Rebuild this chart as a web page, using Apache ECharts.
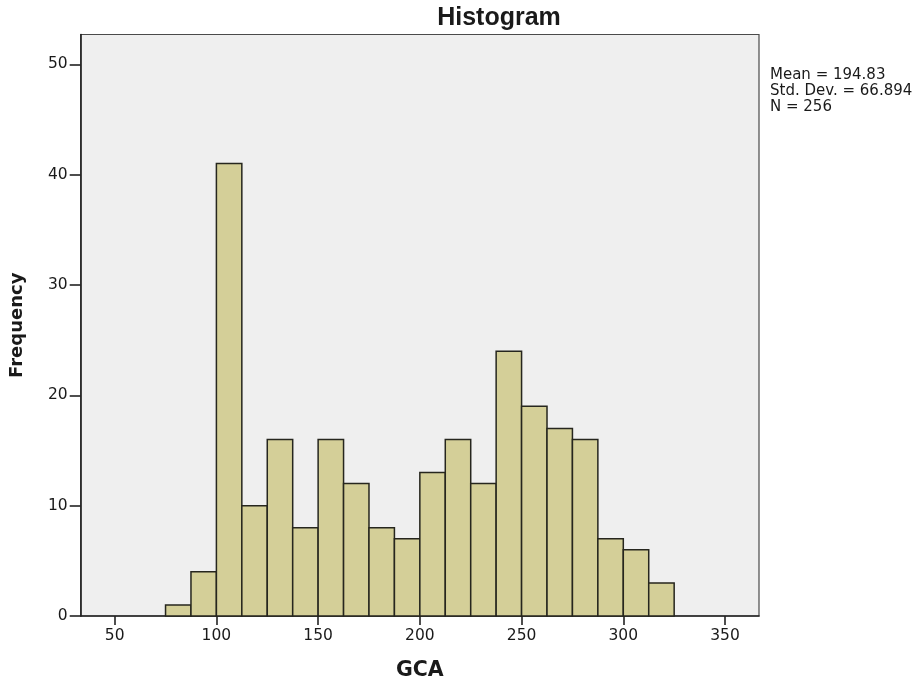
<!DOCTYPE html>
<html>
<head>
<meta charset="utf-8">
<script src="https://cdn.jsdelivr.net/npm/echarts@6/dist/echarts.min.js"></script>
<style>
  html, body { margin: 0; padding: 0; background: #ffffff; }
  #chart { width: 922px; height: 686px; }
</style>
</head>
<body>
<div id="chart"></div>
<script>
// GCA histogram: bin lower bounds (width 12.5) and frequency per bin
const binStarts = [75, 87.5, 100, 112.5, 125, 137.5, 150, 162.5, 175, 187.5,
                   200, 212.5, 225, 237.5, 250, 262.5, 275, 287.5, 300, 312.5];
const binWidth = 12.5;
const frequencies = [1, 4, 41, 10, 16, 8, 16, 12, 8, 7,
                     13, 16, 12, 24, 19, 17, 16, 7, 6, 3];
const xTicks = [50, 100, 150, 200, 250, 300, 350];
const yTicks = [0, 10, 20, 30, 40, 50];
const statsLines = ['Mean = 194.83', 'Std. Dev. = 66.894', 'N = 256'];

const bars = binStarts.map((s, i) => [s, s + binWidth, frequencies[i]]);

const chart = echarts.init(document.getElementById('chart'));
const textColor = '#1a1a1a';
const wideFont = '"DejaVu Sans", Verdana, sans-serif';
const boldFont = 'Arial, "Liberation Sans", sans-serif';

chart.setOption({
  animation: false,
  backgroundColor: '#ffffff',
  title: {
    text: 'Histogram',
    left: 494, top: 1,
    textAlign: 'center',
    textStyle: { fontFamily: boldFont, fontSize: 25, fontWeight: 'bold', color: textColor }
  },
  grid: {
    left: 80.7, right: 163, top: 34.5, bottom: 68,
    show: true,
    backgroundColor: '#efefef',
    borderColor: '#4a4a4a',
    borderWidth: 1.2
  },
  xAxis: {
    type: 'value',
    min: 33.3, max: 366.7,
    name: 'GCA',
    nameLocation: 'middle',
    nameGap: 44,
    nameTextStyle: { fontFamily: wideFont, fontSize: 20.5, fontWeight: 'bold', color: textColor },
    axisLine: { show: true, onZero: false, lineStyle: { color: '#222222', width: 1.6 } },
    axisTick: { show: true, customValues: xTicks, length: 9, lineStyle: { color: '#222222', width: 1.6 } },
    axisLabel: { customValues: xTicks, margin: 12, fontFamily: wideFont, fontSize: 15.5, color: textColor },
    splitLine: { show: false }
  },
  yAxis: {
    type: 'value',
    min: 0, max: 52.7,
    name: 'Frequency',
    nameLocation: 'middle',
    nameGap: 54,
    nameRotate: 90,
    nameTextStyle: { fontFamily: wideFont, fontSize: 18, fontWeight: 'bold', color: textColor },
    axisLine: { show: true, lineStyle: { color: '#222222', width: 1.6 } },
    axisTick: { show: true, customValues: yTicks, length: 11, lineStyle: { color: '#222222', width: 1.6 } },
    axisLabel: { customValues: yTicks, margin: 13, fontFamily: wideFont, fontSize: 15.5, color: textColor,
      verticalAlign: 'middle', padding: [8, 0, 0, 0] },
    splitLine: { show: false }
  },
  graphic: [{
    type: 'text',
    left: 770, top: 67,
    style: {
      text: statsLines.join('\n'),
      font: '15px "DejaVu Sans", Verdana, sans-serif',
      lineHeight: 16.2,
      fill: textColor
    }
  }],
  series: [{
    type: 'custom',
    data: bars,
    encode: { x: [0, 1], y: 2 },
    renderItem: function (params, api) {
      const p0 = api.coord([api.value(0), api.value(2)]);
      const p1 = api.coord([api.value(1), 0]);
      return {
        type: 'rect',
        shape: { x: p0[0], y: p0[1], width: p1[0] - p0[0], height: p1[1] - p0[1] },
        style: { fill: '#d4cf98', stroke: '#26261e', lineWidth: 1.5 }
      };
    }
  }]
});
</script>
</body>
</html>
